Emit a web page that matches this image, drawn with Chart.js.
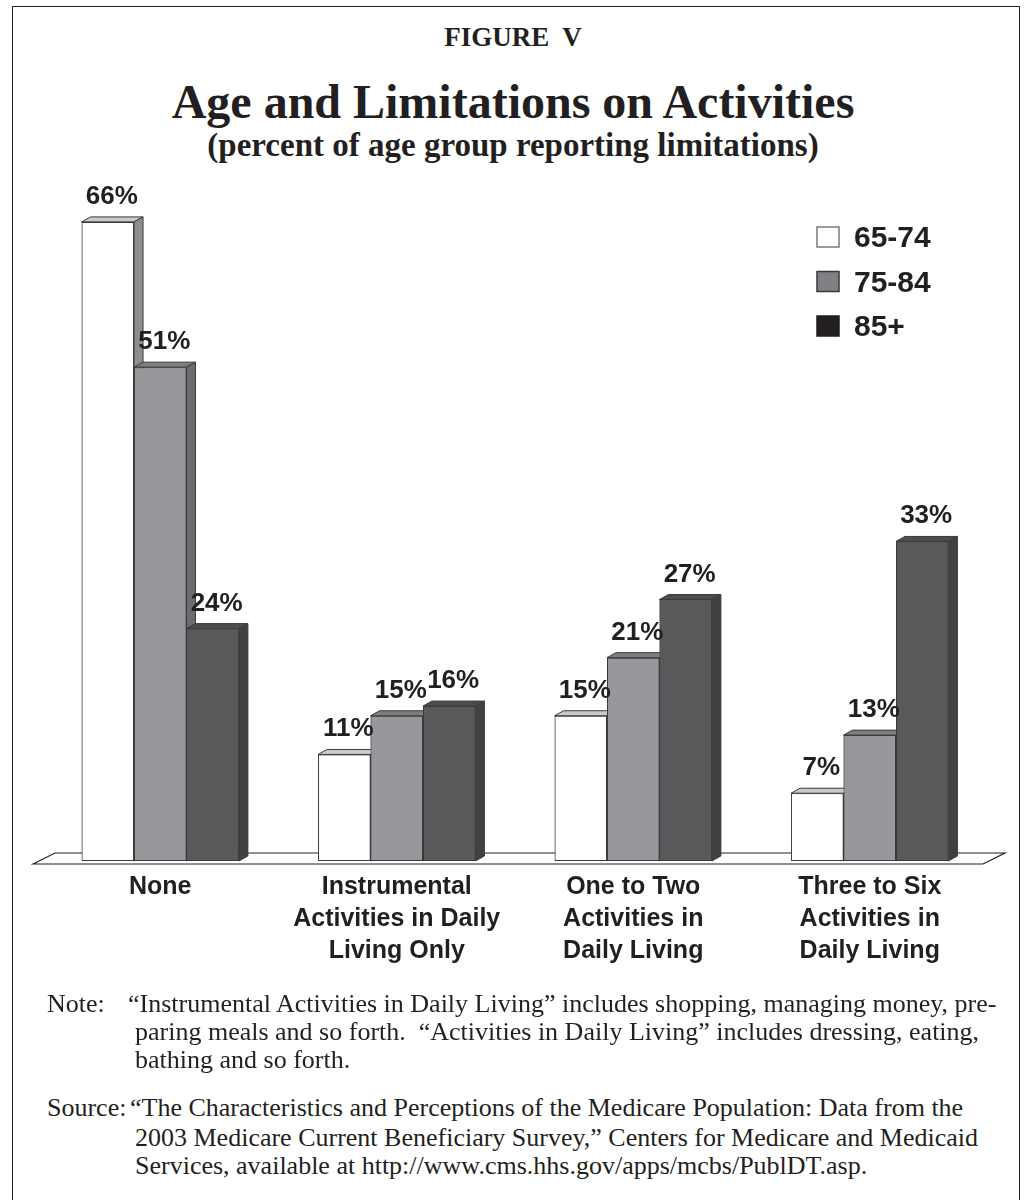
<!DOCTYPE html>
<html>
<head>
<meta charset="utf-8">
<title>Age and Limitations on Activities</title>
<script src="https://cdn.jsdelivr.net/npm/chart.js@4.4.0/dist/chart.umd.min.js"></script>
<style>
  body { margin: 0; background: #fff; width: 1026px; height: 1200px; position: relative; overflow: hidden; }
  #frame { position: absolute; left: 12px; top: 6px; width: 1008px; height: 1220px; border: 1.5px solid #231f20; box-sizing: border-box; }
  #chart { position: absolute; left: 0; top: 0; }
  .head { position: absolute; left: 0; width: 1026px; text-align: center; font-family: "Liberation Serif", "Times New Roman", serif; font-weight: bold; color: #231f20; line-height: 1; white-space: pre; }
  .note { position: absolute; font-family: "Liberation Serif", "Times New Roman", serif; font-size: 26px; line-height: 1; color: #231f20; white-space: pre; }
</style>
</head>
<body>
<div id="frame"></div>
<div class="head" style="top:24px;font-size:27px;">FIGURE  V</div>
<div class="head" style="top:78px;font-size:48px;">Age and Limitations on Activities</div>
<div class="head" style="top:129px;font-size:33px;">(percent of age group reporting limitations)</div>
<canvas id="chart" width="1026" height="1000"></canvas>

<div class="note" style="left:47px;top:991px;">Note:</div>
<div class="note" style="left:128px;top:991px;">“Instrumental Activities in Daily Living” includes shopping, managing money, pre-</div>
<div class="note" style="left:135px;top:1019px;">paring meals and so forth.  “Activities in Daily Living” includes dressing, eating,</div>
<div class="note" style="left:135px;top:1047px;">bathing and so forth.</div>
<div class="note" style="left:47px;top:1095px;">Source:</div>
<div class="note" style="left:130px;top:1095px;">“The Characteristics and Perceptions of the Medicare Population: Data from the</div>
<div class="note" style="left:135px;top:1125px;">2003 Medicare Current Beneficiary Survey,” Centers for Medicare and Medicaid</div>
<div class="note" style="left:135px;top:1153px;">Services, available at http://www.cms.hhs.gov/apps/mcbs/PublDT.asp.</div>

<script>
// categories on the x axis (multi-line labels)
const categories = [
    ['None'],
    ['Instrumental', 'Activities in Daily', 'Living Only'],
    ['One to Two', 'Activities in', 'Daily Living'],
    ['Three to Six', 'Activities in', 'Daily Living']
];
// age groups
const seriesNames = ['65-74', '75-84', '85+'];
// percent of each age group reporting limitations
const values6574 = [66, 11, 15, 7];
const values7584 = [51, 15, 21, 13];
const values85plus = [24, 16, 27, 33];

const INK = '#231f20';
const DX = 9;   // depth of the fake 3D faces
const DY = 5;

// colours for front / side / top faces, and the legend swatch
const looks = [
    { front: '#ffffff', side: '#8d8e90', top: '#c9cacb', swatch: '#ffffff', swatchBorder: '#7a7a7a' },
    { front: '#97989b', side: '#6b6c6f', top: '#7d7e81', swatch: '#808184', swatchBorder: '#3a3a3a' },
    { front: '#58595b', side: '#404042', top: '#4c4d4f', swatch: '#231f20', swatchBorder: '#231f20' }
];

// I draw the floor, the 3D faces, the value labels and the legend myself
const bar3d = {
    id: 'bar3d',
    beforeDatasetsDraw(chart) {
        const { ctx, chartArea } = chart;
        const b = chartArea.bottom;
        ctx.save();
        ctx.beginPath();
        ctx.moveTo(chartArea.left - 9, b + 3);
        ctx.lineTo(chartArea.left + 13, b - 8);
        ctx.lineTo(chartArea.right + 17, b - 8);
        ctx.lineTo(chartArea.right - 5, b + 3);
        ctx.closePath();
        ctx.fillStyle = '#ffffff';
        ctx.fill();
        ctx.strokeStyle = INK;
        ctx.lineWidth = 1.2;
        ctx.stroke();
        ctx.restore();
    },
    afterDatasetsDraw(chart) {
        const ctx = chart.ctx;
        ctx.save();
        // Chart.js paints the last dataset first, so I repaint left to right:
        // each bar's front, then its top and side faces, so the next bar hides the side
        chart.data.datasets.forEach((ds, i) => {
            const look = looks[i];
            chart.getDatasetMeta(i).data.forEach(bar => {
                bar.draw(ctx, chart.chartArea);
                const p = bar.getProps(['x', 'y', 'base', 'width'], true);
                const l = p.x - p.width / 2;
                const r = p.x + p.width / 2;
                ctx.strokeStyle = '#3a3a3a';
                ctx.lineWidth = 1;
                // top face
                ctx.beginPath();
                ctx.moveTo(l, p.y);
                ctx.lineTo(l + DX, p.y - DY);
                ctx.lineTo(r + DX, p.y - DY);
                ctx.lineTo(r, p.y);
                ctx.closePath();
                ctx.fillStyle = look.top;
                ctx.fill();
                ctx.stroke();
                // side face
                ctx.beginPath();
                ctx.moveTo(r, p.y);
                ctx.lineTo(r + DX, p.y - DY);
                ctx.lineTo(r + DX, p.base - DY);
                ctx.lineTo(r, p.base);
                ctx.closePath();
                ctx.fillStyle = look.side;
                ctx.fill();
                ctx.stroke();
            });
        });

        // value labels above every bar
        ctx.fillStyle = INK;
        ctx.font = 'bold 26px "Liberation Sans", Arial, sans-serif';
        ctx.textAlign = 'center';
        ctx.textBaseline = 'alphabetic';
        chart.data.datasets.forEach((ds, i) => {
            chart.getDatasetMeta(i).data.forEach((bar, j) => {
                ctx.fillText(ds.data[j] + '%', bar.x + 4, bar.y - 18);
            });
        });

        // legend in the upper right corner
        ctx.font = 'bold 30px "Liberation Sans", Arial, sans-serif';
        ctx.textAlign = 'left';
        ctx.textBaseline = 'middle';
        chart.data.datasets.forEach((ds, i) => {
            const cy = 237 + i * 44.5;
            ctx.fillStyle = looks[i].swatch;
            ctx.fillRect(817, cy - 10, 22, 20);
            ctx.strokeStyle = looks[i].swatchBorder;
            ctx.lineWidth = 1.5;
            ctx.strokeRect(817, cy - 10, 22, 20);
            ctx.fillStyle = INK;
            ctx.fillText(ds.label, 854, cy + 2);
        });
        ctx.restore();
    }
};

const seriesValues = [values6574, values7584, values85plus];

new Chart(document.getElementById('chart'), {
    type: 'bar',
    data: {
        labels: categories,
        datasets: seriesNames.map((name, i) => ({
            label: name,
            data: seriesValues[i],
            backgroundColor: looks[i].front,
            borderColor: '#3a3a3a',
            borderWidth: 1,
            borderSkipped: false
        }))
    },
    plugins: [bar3d],
    options: {
        responsive: false,
        animation: false,
        layout: { padding: { left: 42, right: 38, top: 188, bottom: 9 } },
        datasets: { bar: { categoryPercentage: 0.665, barPercentage: 1 } },
        plugins: {
            legend: { display: false },
            tooltip: { enabled: false }
        },
        scales: {
            x: {
                grid: { display: false, drawTicks: false },
                border: { display: false },
                ticks: {
                    color: INK,
                    padding: 10,
                    maxRotation: 0,
                    autoSkip: false,
                    font: { family: '"Liberation Sans", Arial, sans-serif', size: 25, weight: 'bold', lineHeight: 1.28 }
                },
                afterFit(scale) { scale.height = 130; }
            },
            y: { display: false, min: 0, max: 69.5 }
        }
    }
});
</script>
</body>
</html>
